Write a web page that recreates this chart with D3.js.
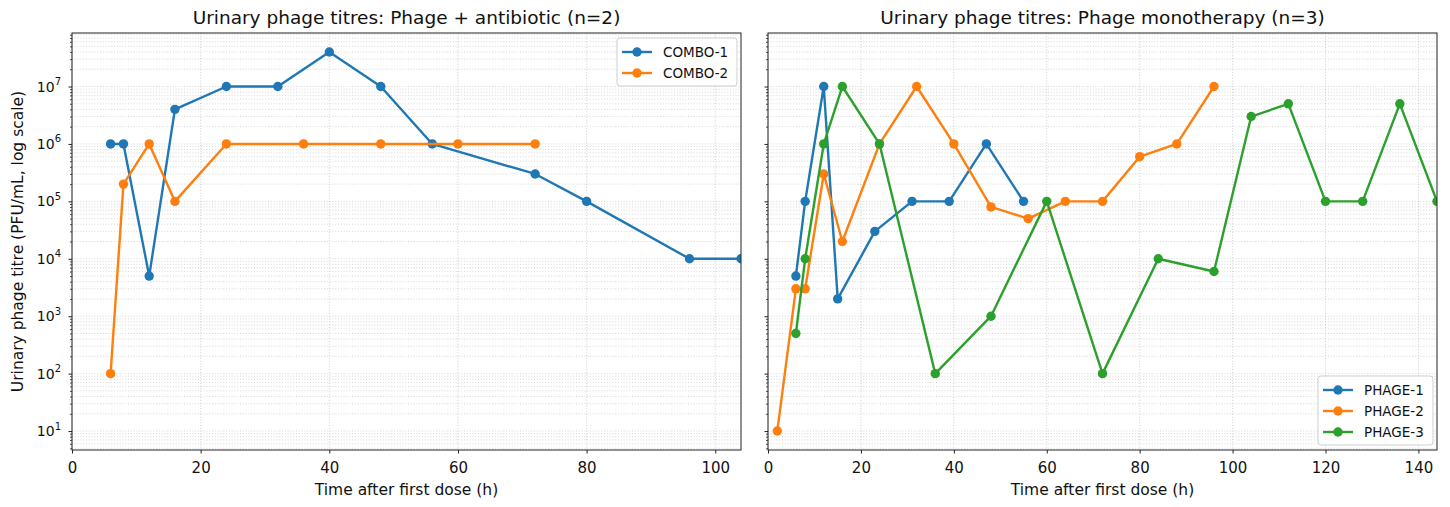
<!DOCTYPE html>
<html>
<head>
<meta charset="utf-8">
<script src="https://cdn.jsdelivr.net/npm/d3@7"></script>
<style>
  body { margin: 0; background: #fff; }
  text { font-family: "DejaVu Sans", sans-serif; fill: #111; }
</style>
</head>
<body>
<svg id="chart" width="1450" height="507"></svg>
<script>
// Urinary phage titres (PFU/mL) against time after first dose (h)
const combo1Time  = [6, 8, 12, 16, 24, 32, 40, 48, 56, 72, 80, 96, 104];
const combo1Titre = [1e6, 1e6, 5e3, 4e6, 1e7, 1e7, 4e7, 1e7, 1e6, 3e5, 1e5, 1e4, 1e4];
const combo2Time  = [6, 8, 12, 16, 24, 36, 48, 60, 72];
const combo2Titre = [1e2, 2e5, 1e6, 1e5, 1e6, 1e6, 1e6, 1e6, 1e6];

const phage1Time  = [6, 8, 12, 15, 23, 31, 39, 47, 55];
const phage1Titre = [5e3, 1e5, 1e7, 2e3, 3e4, 1e5, 1e5, 1e6, 1e5];
const phage2Time  = [2, 6, 8, 12, 16, 24, 32, 40, 48, 56, 64, 72, 80, 88, 96];
const phage2Titre = [1e1, 3e3, 3e3, 3e5, 2e4, 1e6, 1e7, 1e6, 8e4, 5e4, 1e5, 1e5, 6e5, 1e6, 1e7];
const phage3Time  = [6, 8, 12, 16, 24, 36, 48, 60, 72, 84, 96, 104, 112, 120, 128, 136, 144];
const phage3Titre = [5e2, 1e4, 1e6, 1e7, 1e6, 1e2, 1e3, 1e5, 1e2, 1e4, 6e3, 3e6, 5e6, 1e5, 1e5, 5e6, 1e5];

const xTicksCombo = [0, 20, 40, 60, 80, 100];
const xTicksPhage = [0, 20, 40, 60, 80, 100, 120, 140];
const yTickExponents = [1, 2, 3, 4, 5, 6, 7];

const titles = [
  "Urinary phage titres: Phage + antibiotic (n=2)",
  "Urinary phage titres: Phage monotherapy (n=3)"
];
const xLabel = "Time after first dose (h)";
const yLabel = "Urinary phage titre (PFU/mL, log scale)";

const colors = { blue: "#1f77b4", orange: "#ff7f0e", green: "#2ca02c" };

const comboSeries = [
  { name: "COMBO-1", time: combo1Time, titre: combo1Titre, color: colors.blue },
  { name: "COMBO-2", time: combo2Time, titre: combo2Titre, color: colors.orange }
];
const phageSeries = [
  { name: "PHAGE-1", time: phage1Time, titre: phage1Titre, color: colors.blue },
  { name: "PHAGE-2", time: phage2Time, titre: phage2Titre, color: colors.orange },
  { name: "PHAGE-3", time: phage3Time, titre: phage3Titre, color: colors.green }
];

// shared log y-range with 5% padding in log space
const allTitres = [].concat(combo1Titre, combo2Titre, phage1Titre, phage2Titre, phage3Titre);
const lmin = Math.log10(d3.min(allTitres)), lmax = Math.log10(d3.max(allTitres));
const pad = (lmax - lmin) * 0.05;
const yDomain = [Math.pow(10, lmin - pad), Math.pow(10, lmax + pad)];

const svg = d3.select("#chart");
const plotTop = 33, plotBottom = 450;

function drawPanel(opts) {
  const { left, right, xMax, xTicks, series, title, showYLabels, legendPos } = opts;
  const x = d3.scaleLinear().domain([0, xMax]).range([left, right]);
  const y = d3.scaleLog().domain(yDomain).range([plotBottom, plotTop]);
  const g = svg.append("g");

  // clip for marks
  const clipId = "clip" + left;
  svg.append("clipPath").attr("id", clipId)
    .append("rect").attr("x", left).attr("y", plotTop)
    .attr("width", right - left).attr("height", plotBottom - plotTop);

  // minor + major horizontal grid
  const minorVals = [];
  for (let e = 0; e <= 8; e++) {
    for (let m = 1; m <= 9; m++) {
      const v = m * Math.pow(10, e);
      if (v >= yDomain[0] && v <= yDomain[1]) minorVals.push(v);
    }
  }
  const grid = g.append("g");
  grid.selectAll("line.hmin").data(minorVals).enter().append("line")
    .attr("x1", left).attr("x2", right)
    .attr("y1", d => y(d)).attr("y2", d => y(d))
    .attr("stroke", "#b0b0b0").attr("stroke-width", 0.8)
    .attr("stroke-dasharray", "1,1.8").attr("opacity", 0.6);
  grid.selectAll("line.v").data(xTicks).enter().append("line")
    .attr("x1", d => x(d)).attr("x2", d => x(d))
    .attr("y1", plotTop).attr("y2", plotBottom)
    .attr("stroke", "#b0b0b0").attr("stroke-width", 0.9)
    .attr("stroke-dasharray", "1,1.8").attr("opacity", 0.65);

  // series lines + markers
  const marks = g.append("g").attr("clip-path", `url(#${clipId})`);
  const line = d3.line().x(d => x(d[0])).y(d => y(d[1]));
  series.forEach(s => {
    const pts = s.time.map((t, i) => [t, s.titre[i]]);
    marks.append("path").datum(pts)
      .attr("d", line).attr("fill", "none")
      .attr("stroke", s.color).attr("stroke-width", 2.4)
      .attr("stroke-linejoin", "round");
    marks.selectAll(null).data(pts).enter().append("circle")
      .attr("cx", d => x(d[0])).attr("cy", d => y(d[1]))
      .attr("r", 4.7).attr("fill", s.color);
  });

  // axes
  const xAxis = d3.axisBottom(x).tickValues(xTicks).tickSize(3.5).tickSizeOuter(0).tickPadding(6);
  const xg = g.append("g").attr("transform", `translate(0,${plotBottom})`).call(xAxis);
  xg.select(".domain").remove();
  xg.selectAll("text").attr("font-size", 15).attr("fill", "#111").attr("dy", "0.9em")
    .attr("font-family", "DejaVu Sans, sans-serif");
  xg.selectAll("line").attr("stroke", "#222");

  const yMajor = yTickExponents.map(e => Math.pow(10, e));
  const yg = g.append("g").attr("transform", `translate(${left},0)`);
  yg.call(d3.axisLeft(y).tickValues(minorVals.filter(v => !yMajor.includes(v))).tickSize(2).tickFormat(""))
    .select(".domain").remove();
  yg.selectAll("line").attr("stroke", "#222").attr("stroke-width", 0.8);
  const ygMaj = g.append("g").attr("transform", `translate(${left},0)`)
    .call(d3.axisLeft(y).tickValues(yMajor).tickSize(3.5).tickFormat(""));
  ygMaj.select(".domain").remove();
  ygMaj.selectAll("line").attr("stroke", "#222");

  if (showYLabels) {
    const lab = g.append("g");
    yTickExponents.forEach(e => {
      const t = lab.append("text")
        .attr("x", left - 11).attr("y", y(Math.pow(10, e)) + 5)
        .attr("text-anchor", "end").attr("font-size", 14);
      t.append("tspan").text("10");
      t.append("tspan").attr("dy", -6.5).attr("font-size", 10).text(e);
    });
  }

  // frame
  g.append("rect").attr("x", left).attr("y", plotTop)
    .attr("width", right - left).attr("height", plotBottom - plotTop)
    .attr("fill", "none").attr("stroke", "#222").attr("stroke-width", 1);

  // title and x label
  g.append("text").attr("x", (left + right) / 2).attr("y", 24)
    .attr("text-anchor", "middle").attr("font-size", 18.5).text(title);
  g.append("text").attr("x", (left + right) / 2).attr("y", 495)
    .attr("text-anchor", "middle").attr("font-size", 15.5).text(xLabel);

  // legend
  const rowH = 21;
  const lw = legendPos.w, lh = 27 + (series.length - 1) * rowH;
  const lg = g.append("g").attr("transform", `translate(${legendPos.x},${legendPos.y})`);
  lg.append("rect").attr("width", lw).attr("height", lh).attr("rx", 3)
    .attr("fill", "#fff").attr("fill-opacity", 0.85)
    .attr("stroke", "#cfcfcf").attr("stroke-width", 1);
  series.forEach((s, i) => {
    const cy = 14 + i * rowH;
    lg.append("line").attr("x1", 5).attr("x2", 35).attr("y1", cy).attr("y2", cy)
      .attr("stroke", s.color).attr("stroke-width", 2.4);
    lg.append("circle").attr("cx", 20).attr("cy", cy).attr("r", 4.7).attr("fill", s.color);
    lg.append("text").attr("x", 46).attr("y", cy + 5).attr("font-size", 13.5).text(s.name);
  });
}

drawPanel({
  left: 72, right: 741, xMax: 104, xTicks: xTicksCombo, series: comboSeries,
  title: titles[0], showYLabels: true, legendPos: { x: 617, y: 38, w: 120 }
});
drawPanel({
  left: 768, right: 1437, xMax: 144, xTicks: xTicksPhage, series: phageSeries,
  title: titles[1], showYLabels: false, legendPos: { x: 1318, y: 376, w: 115 }
});

// shared y-axis label
svg.append("text")
  .attr("transform", `translate(23,${(plotTop + plotBottom) / 2}) rotate(-90)`)
  .attr("text-anchor", "middle").attr("font-size", 15.5).text(yLabel);
</script>
</body>
</html>
